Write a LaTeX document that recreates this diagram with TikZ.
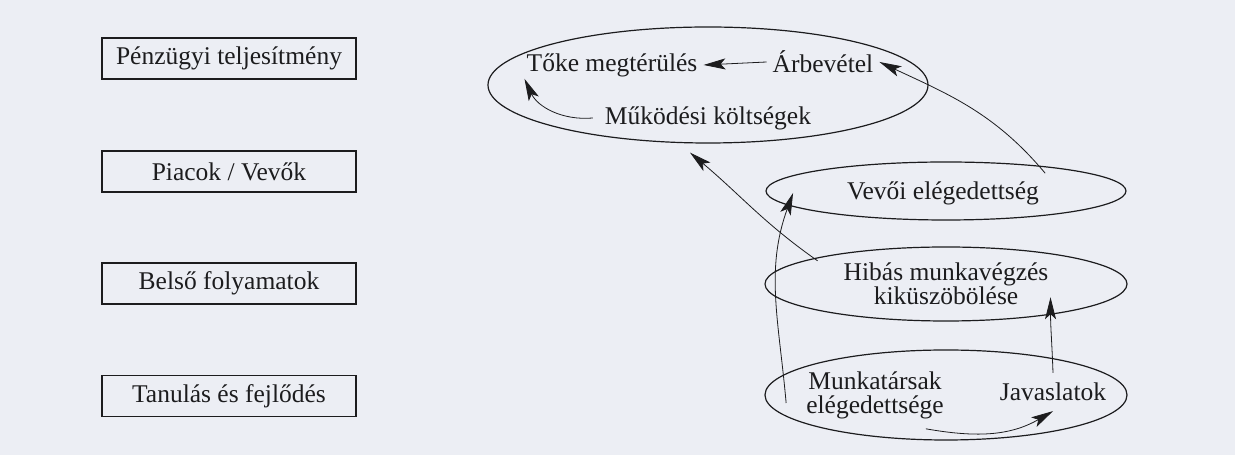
\documentclass[tikz,border=0pt]{standalone}
\usepackage{fontspec}
\setmainfont{Liberation Serif}
\usetikzlibrary{shapes.geometric,arrows.meta}
\definecolor{paper}{RGB}{236,238,244}
\definecolor{ink}{RGB}{28,28,30}
\tikzset{
  persp/.style={draw=ink, line width=1.3bp, minimum width=254bp, minimum height=41bp, inner sep=0pt},
  oval/.style={draw=ink, ellipse, line width=1.2bp, inner sep=0pt},
  txt/.style={text=ink, align=center, inner sep=2bp},
  link/.style={draw=ink, line width=0.8bp, -{Stealth[length=22bp,width=11bp,inset=5bp]}}
}
\begin{document}
\begin{tikzpicture}[x=1bp, y=1bp, font=\fontsize{25.5bp}{24bp}\selectfont]
            % Background
            \fill [paper] (0,0) rectangle (1235,455);
            \useasboundingbox (0,0) rectangle (1235,455);

            % Perspectives
            \node [persp, txt] (penz) at (229,396.5) {Pénzügyi teljesítmény};
            \node [persp, txt] (piac) at (229,283.5) {Piacok / Vevők};
            \node [persp, txt] (belso) at (229,171.5) {Belső folyamatok};
            \node [persp, txt] (tanul) at (229,59) {Tanulás és fejlődés};

            % Ovals
            \node [oval, minimum width=440bp, minimum height=116bp] (penzov) at (708,370) {};
            \node [oval, minimum width=360bp, minimum height=58bp] (vevoov) at (946,264) {};
            \node [oval, minimum width=362bp, minimum height=74bp] (hibaov) at (946,171) {};
            \node [oval, minimum width=362bp, minimum height=90bp] (munkov) at (946,60) {};

            % Measures
            \node [txt] (toke) at (612,390) {Tőke megtérülés};
            \node [txt] (arbev) at (823,393) {Árbevétel};
            \node [txt] (mukod) at (708,337) {Működési költségek};
            \node [txt] (vevo) at (943,262) {Vevői elégedettség};
            \node [txt] (hibas) at (946,171) {Hibás munkavégzés\\kiküszöbölése};
            \node [txt] (munka) at (875,60) {Munkatársak\\elégedettsége};
            \node [txt] (javas) at (1053,63) {Javaslatok};

            % Links
            \draw [link] ([xshift=-4]arbev.west) -- ([xshift=4]toke.east);
            \draw [link] ([xshift=-10]mukod.west) to [out=185, in=-65] (toke.south west);
            \draw [link] ([shift={(4,6)}]vevo.north east) to [out=130, in=-25] ([xshift=4]arbev.east);
            \draw [link] ([xshift=-24]hibas.north west) to [out=145, in=-40] ([shift={(-18,-9)}]penzov.south);
            \draw [link] ([shift={(-18,-8)}]munka.west) to [out=95, in=-110] ([xshift=-52]vevo.west);
            \draw [link] ([yshift=8]javas.north) to [out=92, in=-90] ([yshift=10]hibas.south east);
            \draw [link] ([shift={(-20,-8)}]munka.south east) to [out=-10, in=210] ([yshift=-8]javas.south);
        \end{tikzpicture}
\end{document}
